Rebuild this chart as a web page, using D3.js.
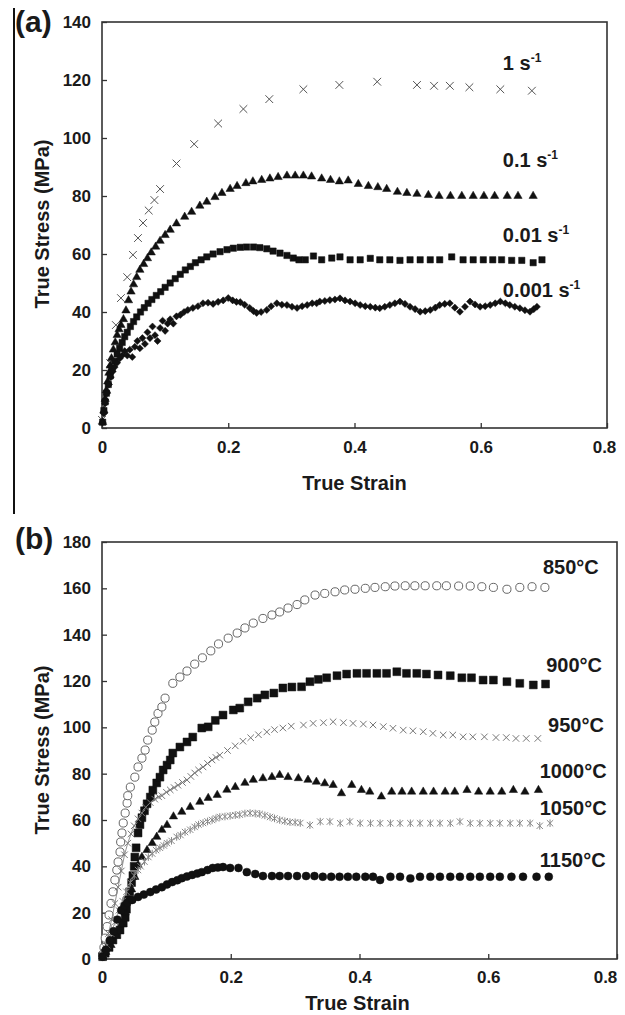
<!DOCTYPE html>
<html>
<head>
<meta charset="utf-8">
<script src="https://cdn.jsdelivr.net/npm/d3@7"></script>
<style>
body { margin: 0; background: #fff; }
svg text { font-family: Arial, "Liberation Sans", sans-serif; font-weight: bold; fill: #1a1a1a; }
</style>
</head>
<body>
<svg id="fig" width="625" height="1015"></svg>
<script>
// ---- panel (a): strain rates, [true strain, true stress MPa] ----
const rate1 = [[0,2.8],[0.005,11],[0.013,22.4],[0.022,35.5],[0.030,44.8],[0.040,52],[0.049,59.7],[0.057,65.5],[0.065,70.7],[0.074,75],[0.083,78.6],[0.092,82.4],[0.118,91.2],[0.146,97.9],[0.184,105],[0.224,110],[0.265,113.4],[0.319,116.8],[0.376,118.3],[0.436,119.4],[0.499,118.3],[0.526,118],[0.551,118],[0.582,117.5],[0.631,116.8],[0.681,116.3]];

const rate01 = [[0.001,2],[0.003,6],[0.005,10],[0.007,13],[0.009,16],[0.011,19],[0.013,21.5],[0.015,24],[0.018,27],[0.021,29.5],[0.024,32],[0.027,34],[0.030,35.5],[0.034,37.5],[0.038,40.5],[0.042,44],[0.046,47],[0.050,49.5],[0.055,52],[0.060,54.5],[0.066,56.5],[0.072,58.5],[0.078,60.5],[0.085,62.5],[0.092,64.5],[0.100,66.5],[0.108,68.3],[0.118,70.5],[0.131,72.8],[0.142,74.5],[0.155,76.6],[0.166,78],[0.179,79.6],[0.190,81],[0.203,82.4],[0.214,83.4],[0.228,84.4],[0.239,85],[0.253,85.5],[0.266,86],[0.279,86.5],[0.293,87],[0.306,87],[0.319,87],[0.332,86.7],[0.348,86],[0.362,85.5],[0.376,85],[0.390,85.3],[0.406,84.1],[0.422,83.4],[0.437,83],[0.451,82.4],[0.468,81.4],[0.483,81],[0.499,80.7],[0.517,80.3],[0.534,80],[0.552,80],[0.570,80],[0.588,80],[0.605,80],[0.622,80],[0.642,80],[0.659,80],[0.683,80]];

const rate001 = [[0.001,2],[0.003,6],[0.005,9],[0.007,12],[0.010,15],[0.013,18],[0.016,20.5],[0.020,23],[0.024,25.5],[0.028,27.5],[0.032,29.5],[0.036,31.5],[0.040,33],[0.045,35],[0.050,36.7],[0.055,38.3],[0.061,40],[0.067,41.5],[0.073,43],[0.079,44.3],[0.086,45.7],[0.093,47],[0.100,48.5],[0.108,50],[0.116,51.5],[0.124,53],[0.132,54.5],[0.140,55.7],[0.148,57],[0.157,58],[0.166,59],[0.176,60],[0.187,60.8],[0.198,61.5],[0.208,62],[0.219,62.3],[0.229,62.4],[0.240,62.4],[0.250,62.2],[0.261,61.8],[0.271,61],[0.282,60.3],[0.293,59.5],[0.303,58.6],[0.312,58],[0.322,58],[0.335,59.3],[0.348,58],[0.364,58.6],[0.377,59],[0.393,58],[0.409,58],[0.425,58.5],[0.440,58],[0.456,58],[0.472,57.8],[0.488,58],[0.504,58],[0.520,58],[0.535,58],[0.554,59],[0.572,58],[0.588,58],[0.604,58],[0.619,58],[0.633,58],[0.649,57.8],[0.665,57.8],[0.683,57],[0.697,58]];

const rate0001 = [[0.001,2],[0.003,5],[0.005,8.5],[0.008,12],[0.011,15],[0.014,17.5],[0.017,19.5],[0.020,21],[0.024,22.5],[0.028,24],[0.032,25],[0.036,26.5],[0.040,25],[0.044,27],[0.048,24.5],[0.052,28],[0.056,30],[0.060,27.5],[0.064,31],[0.068,29],[0.072,33],[0.076,31],[0.080,35],[0.084,32],[0.088,30],[0.092,34.5],[0.096,37],[0.100,33.5],[0.104,36],[0.108,37.5],[0.113,36],[0.118,38.5],[0.124,39],[0.130,40],[0.136,40.7],[0.144,41.4],[0.152,42],[0.160,43],[0.168,43.2],[0.176,42.8],[0.184,43.5],[0.192,44],[0.200,44.8],[0.207,44],[0.213,43.5],[0.219,43.4],[0.226,42.5],[0.234,41.4],[0.240,40.3],[0.245,39.7],[0.252,40],[0.261,40.7],[0.268,42],[0.277,43],[0.285,42.5],[0.293,42.4],[0.301,41.8],[0.309,41.4],[0.317,42],[0.325,42.4],[0.333,43],[0.340,43],[0.345,43.6],[0.353,43.8],[0.361,44.1],[0.369,44.3],[0.377,44.7],[0.385,44],[0.393,43.6],[0.401,43],[0.409,42.4],[0.417,42],[0.425,41.8],[0.433,41.5],[0.440,41.3],[0.448,41.8],[0.456,42.4],[0.464,43],[0.472,43.6],[0.480,42.8],[0.488,41.8],[0.496,41],[0.504,40.1],[0.512,40.3],[0.520,40.7],[0.528,41.5],[0.535,42.4],[0.543,42.8],[0.551,43],[0.559,41.5],[0.567,40.1],[0.575,41.8],[0.583,43.6],[0.591,42.6],[0.599,41.8],[0.607,42],[0.615,42.4],[0.623,43],[0.631,43.6],[0.639,43],[0.646,42.4],[0.654,41.8],[0.662,41.3],[0.670,40.6],[0.678,40.1],[0.684,41],[0.689,41.8]];

// ---- panel (b): temperatures ----
const t850 = [[0.001,2],[0.003,5],[0.005,9],[0.008,14],[0.011,19],[0.014,24],[0.017,29],[0.020,34.1],[0.023,38.4],[0.025,41.9],[0.028,46.2],[0.029,50.5],[0.031,54.4],[0.033,58.7],[0.036,63],[0.039,67.3],[0.040,70.5],[0.044,74.2],[0.051,78.5],[0.056,82.9],[0.062,86.7],[0.067,90.2],[0.071,94.5],[0.078,98.8],[0.082,102.3],[0.087,106],[0.093,108.8],[0.098,112.6],[0.110,119],[0.121,121.7],[0.132,124.3],[0.144,127.3],[0.156,130],[0.169,133],[0.181,136],[0.196,138.5],[0.210,140.7],[0.222,142.9],[0.235,145],[0.250,147],[0.264,148.5],[0.276,149.8],[0.289,151.5],[0.303,153],[0.315,155],[0.331,157.1],[0.346,157.8],[0.362,158.5],[0.377,159.3],[0.393,159.6],[0.409,160],[0.424,160.4],[0.440,160.7],[0.455,161],[0.471,161.1],[0.486,161.1],[0.502,161.1],[0.520,161.1],[0.535,161.1],[0.554,161],[0.572,161],[0.590,160.7],[0.608,160.4],[0.629,159.6],[0.649,160.4],[0.668,160.7],[0.688,160.4]];

const t900 = [[0.001,1],[0.005,2.5],[0.011,5],[0.017,8.2],[0.023,10.5],[0.028,12.5],[0.033,15.5],[0.036,18],[0.038,21.5],[0.040,25.5],[0.043,29],[0.046,33],[0.048,36],[0.050,40],[0.051,44],[0.053,48],[0.056,54.4],[0.059,58],[0.062,61],[0.066,64],[0.070,67],[0.075,69.9],[0.079,72.9],[0.085,76],[0.090,78.5],[0.095,81.6],[0.101,83.7],[0.106,85.9],[0.110,88.9],[0.121,91.5],[0.132,93.7],[0.141,95.8],[0.155,99.7],[0.165,100.2],[0.176,103],[0.188,105.3],[0.204,107.5],[0.214,108.3],[0.227,111],[0.241,112.6],[0.253,114],[0.267,114.8],[0.281,117],[0.295,117.4],[0.310,117.5],[0.323,119.7],[0.336,120.7],[0.349,121.4],[0.365,122.3],[0.380,123],[0.396,123.3],[0.411,123.3],[0.427,123.3],[0.442,123.3],[0.458,124],[0.473,123.3],[0.489,123.3],[0.504,123],[0.522,122.6],[0.541,122.3],[0.559,121.4],[0.574,121.4],[0.592,120.4],[0.608,120.4],[0.629,119.7],[0.649,119],[0.670,118.3],[0.689,118.7]];

const t950 = [[0.001,1],[0.005,5],[0.010,11],[0.015,17],[0.020,24],[0.025,31],[0.030,38],[0.035,45],[0.040,50],[0.045,54],[0.050,57.5],[0.056,60.5],[0.062,63],[0.068,65.5],[0.075,67.5],[0.082,69],[0.088,70],[0.093,70.5],[0.100,72],[0.106,73],[0.112,74],[0.118,75],[0.125,76.2],[0.132,77.3],[0.138,78.8],[0.144,80.3],[0.150,81.6],[0.157,82.9],[0.164,84.4],[0.171,85.9],[0.177,87],[0.183,88],[0.195,90],[0.207,92],[0.219,94],[0.231,95.5],[0.243,96.8],[0.256,98],[0.268,99],[0.281,99.7],[0.294,100.5],[0.313,101],[0.328,101.7],[0.344,102],[0.359,102.4],[0.375,102],[0.390,101.7],[0.406,101.4],[0.421,101],[0.437,100.3],[0.452,99.6],[0.468,98.8],[0.483,98.5],[0.499,98.1],[0.514,97.4],[0.530,96.7],[0.545,96.7],[0.561,95.9],[0.576,95.9],[0.594,95.9],[0.612,95.6],[0.628,95.6],[0.643,95.2],[0.659,95.2],[0.677,95.2]];

const t1000 = [[0.001,1],[0.006,3],[0.014,6],[0.022,10],[0.030,15],[0.036,20],[0.041,25],[0.046,30],[0.051,35.4],[0.056,40.6],[0.062,44],[0.070,47],[0.078,50],[0.085,52.7],[0.093,55.7],[0.101,57.8],[0.111,61.5],[0.124,63.5],[0.137,65.6],[0.152,67.8],[0.165,69.5],[0.179,70.8],[0.194,73],[0.207,74.2],[0.222,76],[0.235,77.3],[0.250,78],[0.264,78.5],[0.276,79.4],[0.289,78.5],[0.305,78],[0.320,77.3],[0.333,76.5],[0.346,75.8],[0.359,75.1],[0.372,71.5],[0.388,75.1],[0.403,72.9],[0.416,72.2],[0.434,70.1],[0.450,72.2],[0.466,72.2],[0.481,72.2],[0.499,72.2],[0.515,72.2],[0.533,72.2],[0.548,72.2],[0.567,72.9],[0.585,72.2],[0.603,72.2],[0.621,72.2],[0.639,72.9],[0.657,72.2],[0.678,72.9]];

const t1050 = [[0.003,2],[0.008,6],[0.014,11],[0.020,16],[0.026,21],[0.032,25],[0.038,29],[0.044,33],[0.050,36],[0.056,38.4],[0.060,40],[0.066,42],[0.072,44],[0.078,45.5],[0.084,47],[0.090,48],[0.096,49],[0.101,50],[0.108,51],[0.116,52.7],[0.122,53.5],[0.129,54.8],[0.137,55.8],[0.144,57],[0.150,58],[0.157,58.7],[0.164,59.4],[0.171,60],[0.177,60.7],[0.183,61.3],[0.191,61.5],[0.199,61.8],[0.207,62.1],[0.214,62.3],[0.222,62.8],[0.230,63],[0.238,62.8],[0.245,62.6],[0.253,62],[0.261,61.3],[0.268,60.7],[0.276,60],[0.284,59.5],[0.292,59.1],[0.300,59],[0.308,58.7],[0.323,57.8],[0.339,59.3],[0.354,59.3],[0.370,58.6],[0.385,59.3],[0.401,58.6],[0.417,58.6],[0.432,58.6],[0.448,58.6],[0.463,58.6],[0.479,58.6],[0.494,58.6],[0.510,58.6],[0.525,58.6],[0.541,58.6],[0.556,59.3],[0.572,58.6],[0.587,58.6],[0.603,58.6],[0.618,58.6],[0.634,58.6],[0.649,58.6],[0.665,58.6],[0.680,57.5],[0.696,58.6]];

const t1150 = [[0.001,1],[0.006,4],[0.012,8],[0.018,12],[0.024,17],[0.030,21],[0.035,23],[0.039,24.2],[0.047,25.5],[0.056,26.8],[0.065,27.8],[0.075,28.9],[0.084,30],[0.093,31],[0.101,32.2],[0.109,33.2],[0.117,34],[0.124,34.9],[0.132,35.6],[0.140,36.3],[0.148,36.9],[0.155,37.5],[0.164,38.4],[0.172,39.3],[0.180,39.5],[0.188,39.7],[0.199,39.3],[0.212,39.3],[0.225,37.5],[0.238,36.7],[0.250,35.8],[0.264,35.8],[0.276,35.8],[0.289,35.8],[0.303,35.8],[0.317,35.8],[0.330,35.8],[0.343,35.5],[0.356,35.5],[0.369,35.5],[0.382,35.5],[0.395,35.5],[0.409,35.5],[0.421,35.5],[0.432,34.1],[0.448,35.5],[0.463,35.5],[0.479,34.8],[0.494,35.5],[0.510,35.5],[0.525,35.5],[0.541,35.5],[0.556,35.5],[0.572,35.5],[0.587,35.5],[0.603,35.5],[0.618,35.5],[0.636,35.5],[0.654,35.5],[0.675,35.5],[0.694,35.5]];

const xTicks = [0, 0.2, 0.4, 0.6, 0.8];
const yTicksA = [0, 20, 40, 60, 80, 100, 120, 140];
const yTicksB = [0, 20, 40, 60, 80, 100, 120, 140, 160, 180];

// custom marks: x cross and asterisk
const symX = { draw(ctx, size) { const r = Math.sqrt(size) / 2;
  ctx.moveTo(-r, -r); ctx.lineTo(r, r); ctx.moveTo(r, -r); ctx.lineTo(-r, r); } };
const symAst = { draw(ctx, size) { const r = Math.sqrt(size) / 2;
  ctx.moveTo(-r, -r); ctx.lineTo(r, r); ctx.moveTo(r, -r); ctx.lineTo(-r, r);
  ctx.moveTo(0, -r * 1.2); ctx.lineTo(0, r * 1.2); } };
const symDiamond = d3.symbolDiamond2 || d3.symbolDiamond;

const svg = d3.select("#fig");

// crop edge line on the left of the figure
svg.append("line").attr("x1", 14).attr("x2", 14).attr("y1", 8).attr("y2", 514)
  .attr("stroke", "#111").attr("stroke-width", 2);

function panel(o) {
  const x = d3.scaleLinear().domain([0, 0.8]).range([o.left, o.right]);
  const y = d3.scaleLinear().domain([0, o.yMax]).range([o.bottom, o.top]);
  const g = svg.append("g");

  const fmt = d => d === 0 ? "0" : d3.format(".1f")(d);
  const xAxis = g.append("g").attr("transform", `translate(0,${o.bottom})`)
    .call(d3.axisBottom(x).tickValues(xTicks).tickFormat(fmt).tickSizeInner(-5).tickSizeOuter(0).tickPadding(o.xPad));
  const yAxis = g.append("g").attr("transform", `translate(${o.left},0)`)
    .call(d3.axisLeft(y).tickValues(o.yTicks).tickSizeInner(-5).tickSizeOuter(0).tickPadding(11));
  [xAxis, yAxis].forEach(a => {
    a.select(".domain").remove();
    a.selectAll(".tick line").attr("stroke", "#333").attr("stroke-width", 1.3);
    a.selectAll(".tick text").style("font-size", "17px").attr("fill", "#1a1a1a");
  });
  // the last strain label sits pulled in from the frame edge
  xAxis.selectAll(".tick text").filter(d => d === 0.8).attr("dx", o.lastDx);

  g.append("rect").attr("x", o.left).attr("y", o.top)
    .attr("width", o.right - o.left).attr("height", o.bottom - o.top)
    .attr("fill", "none").attr("stroke", "#333").attr("stroke-width", 1.6);

  o.series.forEach(s => {
    if (s.lineTo) {
      g.append("path").datum(s.data.filter(d => d[0] <= s.lineTo))
        .attr("fill", "none").attr("stroke", s.stroke).attr("stroke-width", 0.8)
        .attr("d", d3.line().x(d => x(d[0])).y(d => y(d[1])));
    }
    g.append("g").selectAll("path").data(s.data).join("path")
      .attr("transform", d => `translate(${x(d[0])},${y(d[1])})`)
      .attr("d", d3.symbol().type(s.type).size(s.size))
      .attr("fill", s.fill).attr("stroke", s.stroke).attr("stroke-width", s.sw);
  });

  // series labels
  o.labels.forEach(l => {
    const t = g.append("text").attr("x", x(l.at[0])).attr("y", y(l.at[1]))
      .style("font-size", "20px").text(l.text);
    if (l.sup) t.append("tspan").attr("dy", -8).style("font-size", "12px").text(l.sup);
  });

  // axis titles
  g.append("text").attr("x", (o.left + o.right) / 2 + o.xtOff).attr("y", o.bottom + o.xtGap)
    .attr("text-anchor", "middle").style("font-size", "20px").text("True Strain");
  g.append("text").attr("transform", `translate(49,${o.ytMid}) rotate(-90)`)
    .attr("text-anchor", "middle").style("font-size", "20px").text("True Stress (MPa)");

  g.append("text").attr("x", 15).attr("y", o.letterY).style("font-size", "30px").text(o.letter);
}

panel({
  left: 102, right: 607, top: 22, bottom: 428, yMax: 140, yTicks: yTicksA,
  xPad: 13, xtGap: 62, xtOff: 0, ytMid: 224, letter: "(a)", letterY: 32, lastDx: -3,
  series: [
    { data: rate1, type: symX, size: 60, fill: "none", stroke: "#555", sw: 1 },
    { data: rate01, type: d3.symbolTriangle, size: 30, fill: "#111", stroke: "#111", sw: 0.5 },
    { data: rate001, type: d3.symbolSquare, size: 40, fill: "#111", stroke: "#111", sw: 0.5 },
    { data: rate0001, type: symDiamond, size: 32, fill: "#111", stroke: "#111", sw: 0.5 }
  ],
  labels: [
    { text: "1 s", sup: "-1", at: [0.635, 123.4] },
    { text: "0.1 s", sup: "-1", at: [0.635, 90] },
    { text: "0.01 s", sup: "-1", at: [0.635, 64.1] },
    { text: "0.001 s", sup: "-1", at: [0.635, 45.2] }
  ]
});

panel({
  left: 102, right: 617, top: 542, bottom: 959, yMax: 180, yTicks: yTicksB,
  xPad: 12, xtGap: 51, xtOff: -2, ytMid: 750, letter: "(b)", letterY: 549, lastDx: -12,
  series: [
    { data: t850, type: d3.symbolCircle, size: 52, fill: "#fff", stroke: "#666", sw: 1 },
    { data: t900, type: d3.symbolSquare, size: 62, fill: "#111", stroke: "#111", sw: 0.5 },
    { data: t950, type: symX, size: 42, fill: "none", stroke: "#777", sw: 1, lineTo: 0.19 },
    { data: t1000, type: d3.symbolTriangle, size: 30, fill: "#111", stroke: "#111", sw: 0.5 },
    { data: t1050, type: symAst, size: 40, fill: "none", stroke: "#888", sw: 1, lineTo: 0.12 },
    { data: t1150, type: d3.symbolCircle, size: 50, fill: "#111", stroke: "#111", sw: 0.5 }
  ],
  labels: [
    { text: "850°C", at: [0.685, 166.2] },
    { text: "900°C", at: [0.690, 123.9] },
    { text: "950°C", at: [0.693, 98] },
    { text: "1000°C", at: [0.680, 78.1] },
    { text: "1050°C", at: [0.680, 62.1] },
    { text: "1150°C", at: [0.680, 39.7] }
  ]
});
</script>
</body>
</html>
